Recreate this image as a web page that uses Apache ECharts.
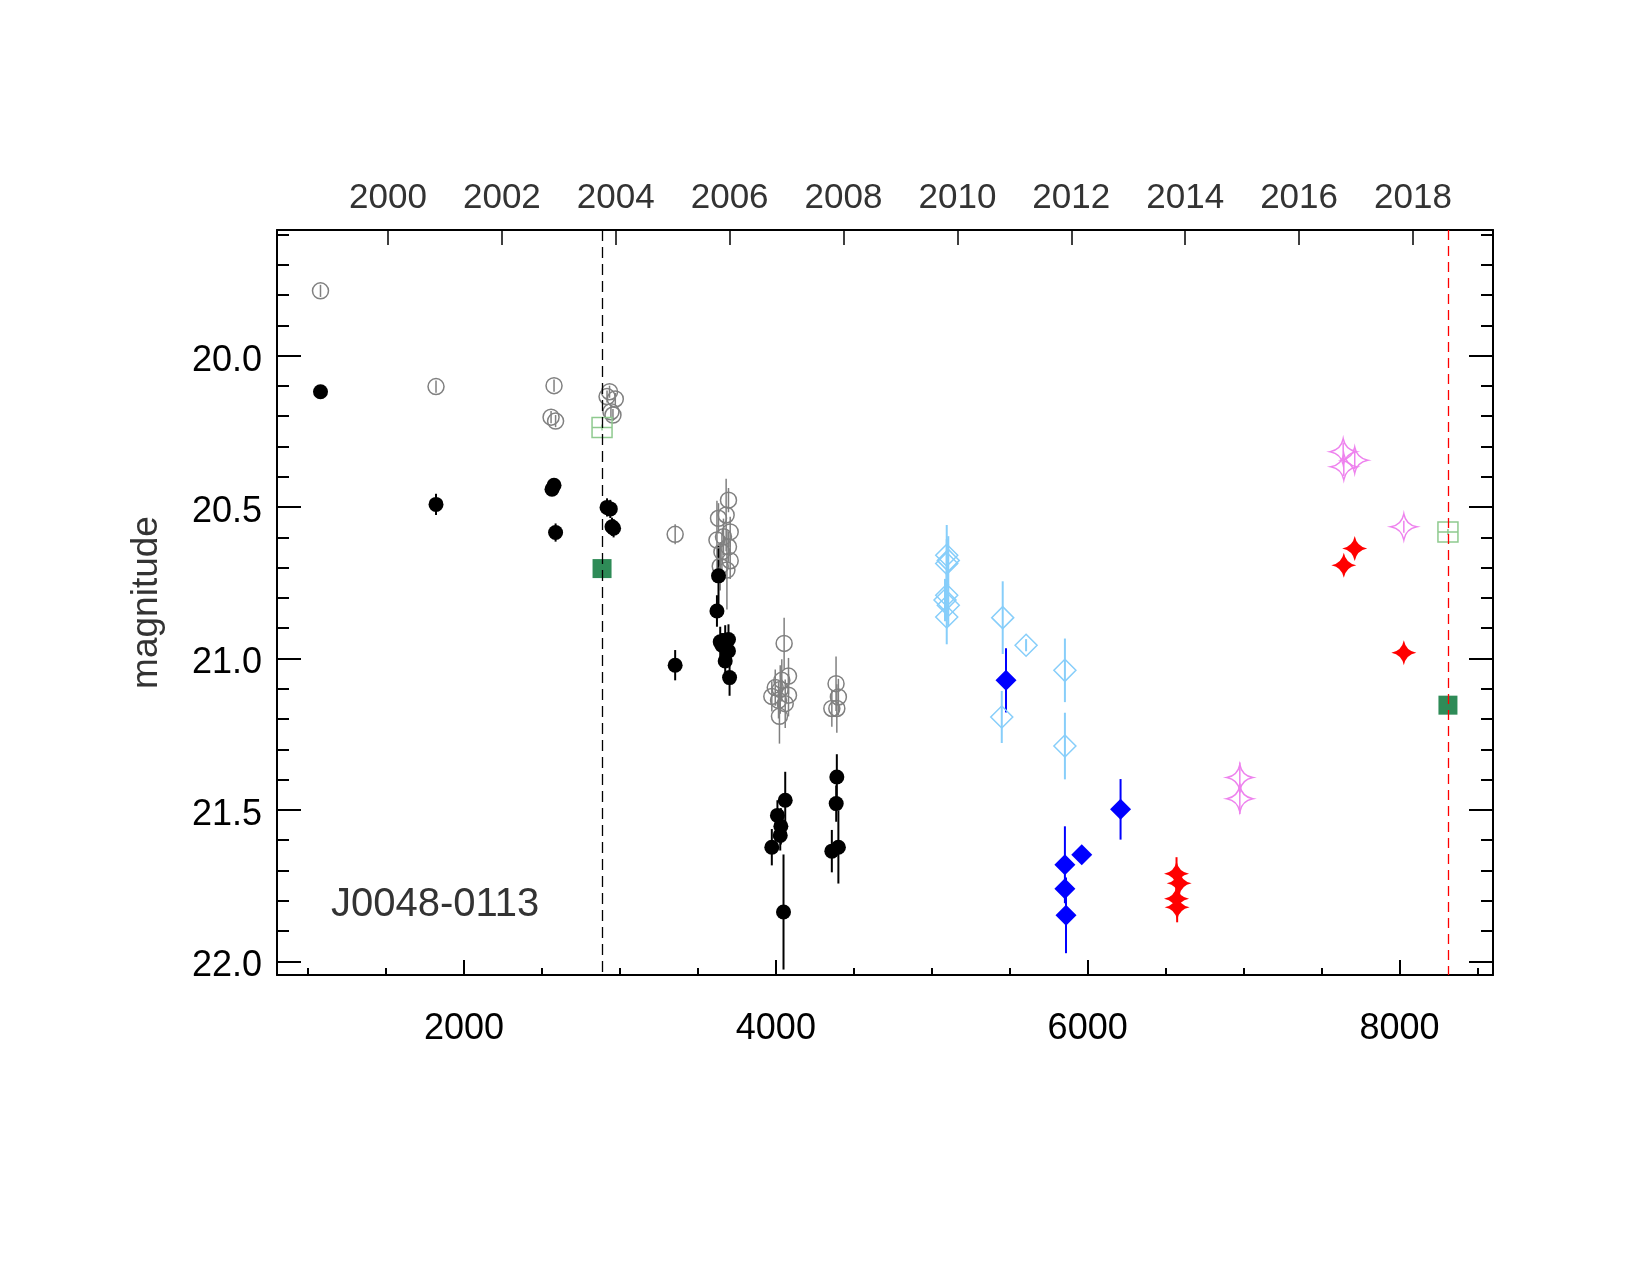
<!DOCTYPE html>
<html>
<head>
<meta charset="utf-8">
<script src="https://cdn.jsdelivr.net/npm/echarts@6/dist/echarts.min.js"></script>
<style>
  body { margin: 0; background: #fff; }
  #chart { width: 1650px; height: 1275px; }
</style>
</head>
<body>
<div id="chart"></div>
<script>
// each point: [MJD - 50000, magnitude, error]
const greyOpen = [
  [1079, 19.786, 0.02], [1820, 20.102, 0.02], [2577, 20.099, 0.02], [2558, 20.203, 0.02],
  [2587, 20.216, 0.02], [2933, 20.119, 0.02], [2917, 20.135, 0.02], [2970, 20.143, 0.02],
  [2942, 20.185, 0.02], [2955, 20.196, 0.02], [3354, 20.590, 0.033],
  [3696, 20.477, 0.04], [3632, 20.537, 0.05], [3681, 20.526, 0.12], [3622, 20.609, 0.13],
  [3707, 20.582, 0.05], [3664, 20.598, 0.06], [3696, 20.631, 0.05], [3654, 20.648, 0.06],
  [3707, 20.677, 0.06], [3643, 20.695, 0.08], [3686, 20.708, 0.13],
  [4053, 20.950, 0.085], [4081, 21.058, 0.06], [4038, 21.072, 0.07], [3996, 21.096, 0.06],
  [4028, 21.102, 0.08], [3974, 21.125, 0.05], [4081, 21.121, 0.07], [4017, 21.138, 0.06],
  [4060, 21.149, 0.08], [4023, 21.191, 0.09],
  [4386, 21.083, 0.09], [4401, 21.127, 0.06], [4359, 21.165, 0.06], [4391, 21.165, 0.08]
];
const blackFilled = [
  [1079, 20.119, 0.01], [1820, 20.491, 0.035], [2564, 20.441, 0.02], [2577, 20.428, 0.02],
  [2587, 20.584, 0.03], [2917, 20.501, 0.03], [2938, 20.506, 0.03], [2949, 20.565, 0.03],
  [2959, 20.570, 0.03], [3354, 21.022, 0.05], [3632, 20.727, 0.1], [3622, 20.843, 0.052],
  [3643, 20.945, 0.05], [3675, 20.940, 0.05], [3696, 20.937, 0.05], [3654, 20.956, 0.04],
  [3696, 20.975, 0.04], [3675, 21.008, 0.04], [3703, 21.063, 0.06],
  [4060, 21.468, 0.094], [4010, 21.518, 0.05], [4032, 21.554, 0.06], [4028, 21.584, 0.05],
  [3974, 21.623, 0.06], [4049, 21.837, 0.19],
  [4391, 21.391, 0.075], [4387, 21.479, 0.06], [4401, 21.623, 0.12], [4359, 21.636, 0.07]
];
const greenOpen = [[2885, 20.237, 0.01], [8311, 20.582, 0.01]];
const greenFilled = [[2885, 20.703, 0.01], [8311, 21.154, 0.01]];
const skyOpen = [
  [5096, 20.659, 0.1], [5106, 20.676, 0.08], [5096, 20.686, 0.08], [5096, 20.791, 0.08],
  [5085, 20.807, 0.07], [5106, 20.824, 0.07], [5096, 20.863, 0.09], [5455, 20.865, 0.12],
  [5605, 20.956, 0.02], [5449, 21.193, 0.086], [5854, 21.039, 0.105], [5854, 21.289, 0.11]
];
const blueFilled = [
  [5476, 21.072, 0.106], [6211, 21.498, 0.10], [5962, 21.648, 0.02],
  [5854, 21.681, 0.127], [5854, 21.760, 0.03], [5861, 21.848, 0.125]
];
const violetOpen = [
  [6976, 21.393, 0.05], [6976, 21.463, 0.05], [7639, 20.317, 0.03],
  [7713, 20.345, 0.03], [7643, 20.367, 0.03], [8028, 20.565, 0.02]
];
const redFilled = [
  [6570, 21.711, 0.055], [6587, 21.742, 0.04], [6570, 21.793, 0.04], [6574, 21.821, 0.05],
  [7713, 20.637, 0.02], [7643, 20.692, 0.02], [8028, 20.981, 0.02]
];
const epochLines = [2885, 8311];

// tick labels
const xMajor = [2000, 4000, 6000, 8000];
const xMinor = [1000, 1500, 2500, 3000, 3500, 4500, 5000, 5500, 6500, 7000, 7500, 8500];
const years = [2000, 2002, 2004, 2006, 2008, 2010, 2012, 2014, 2016, 2018];
const magMajor = [20.0, 20.5, 21.0, 21.5, 22.0];
const magMinor = [19.6, 19.7, 19.8, 19.9, 20.1, 20.2, 20.3, 20.4, 20.6, 20.7, 20.8, 20.9,
  21.1, 21.2, 21.3, 21.4, 21.6, 21.7, 21.8, 21.9];

const FONT = '"Liberation Sans", Helvetica, Arial, sans-serif';
const X0 = 1512; // MJD-50000 at 2000.0 on this plot
const yearToX = y => X0 + (y - 2000) * 365.25;
const yearPos = years.map(yearToX);

const STAR = 'path://M0,-10 Q1.6,-1.6 10,0 Q1.6,1.6 0,10 Q-1.6,1.6 -10,0 Q-1.6,-1.6 0,-10 Z';
const BOXMID = 'path://M0,0 L20,0 L20,20 L0,20 Z M0,10 L20,10';

function errBars(data, color, width) {
  return {
    type: 'custom',
    data: data,
    encode: { x: 0, y: 1 },
    silent: true,
    renderItem: function (params, api) {
      const x = api.value(0), y = api.value(1), e = api.value(2);
      const a = api.coord([x, y - e]), b = api.coord([x, y + e]);
      return {
        type: 'line',
        shape: { x1: a[0], y1: a[1], x2: b[0], y2: b[1] },
        style: { stroke: color, lineWidth: width }
      };
    }
  };
}

function marks(data, symbol, size, fill, stroke, bw) {
  return {
    type: 'scatter',
    data: data,
    symbol: symbol,
    symbolSize: size,
    silent: true,
    itemStyle: { color: fill, borderColor: stroke, borderWidth: bw, opacity: 1 }
  };
}

const none = 'rgba(0,0,0,0)';
const axisLine = { show: true, lineStyle: { color: '#000', width: 2 } };

const chart = echarts.init(document.getElementById('chart'));
chart.setOption({
  backgroundColor: '#fff',
  animation: false,
  grid: { left: 277, top: 230, width: 1216, height: 745, containLabel: false, outerBoundsMode: 'none' },
  xAxis: [
    {
      type: 'value', position: 'bottom', min: 800, max: 8600,
      axisLine: axisLine, splitLine: { show: false },
      axisTick: { inside: true, length: 15, customValues: xMajor, lineStyle: { color: '#000', width: 2 } },
      axisLabel: { customValues: xMajor, fontSize: 36, color: '#000', margin: 36, fontFamily: FONT,
        formatter: v => String(v) }
    },
    {
      type: 'value', position: 'bottom', min: 800, max: 8600,
      axisLine: { show: false }, splitLine: { show: false }, axisLabel: { show: false },
      axisTick: { inside: true, length: 7, customValues: xMinor, lineStyle: { color: '#000', width: 2 } }
    },
    {
      type: 'value', position: 'top', min: 800, max: 8600,
      axisLine: axisLine, splitLine: { show: false },
      axisTick: { inside: true, length: 15, customValues: yearPos, lineStyle: { color: '#000', width: 1.5 } },
      axisLabel: {
        customValues: yearPos, fontSize: 35, color: '#333', margin: 14, fontFamily: FONT,
        formatter: v => String(Math.round(2000 + (v - X0) / 365.25))
      }
    }
  ],
  yAxis: [
    {
      type: 'value', position: 'left', inverse: true, min: 19.585, max: 22.045,
      axisLine: axisLine, splitLine: { show: false },
      axisTick: { inside: true, length: 24, customValues: magMajor, lineStyle: { color: '#000', width: 2 } },
      axisLabel: {
        customValues: magMajor, color: '#000', margin: 15, fontFamily: FONT,
        formatter: v => '{m|' + v.toFixed(1) + '}',
        rich: { m: { fontSize: 36, color: '#000', fontFamily: FONT, padding: [10, 0, 0, 0] } }
      },
      name: 'magnitude', nameLocation: 'middle', nameGap: 112,
      nameTextStyle: { fontSize: 37, color: '#333', fontFamily: FONT }
    },
    {
      type: 'value', position: 'left', inverse: true, min: 19.585, max: 22.045,
      axisLine: { show: false }, splitLine: { show: false }, axisLabel: { show: false },
      axisTick: { inside: true, length: 12, customValues: magMinor, lineStyle: { color: '#000', width: 2 } }
    },
    {
      type: 'value', position: 'right', inverse: true, min: 19.585, max: 22.045,
      axisLine: axisLine, splitLine: { show: false }, axisLabel: { show: false },
      axisTick: { inside: true, length: 24, customValues: magMajor, lineStyle: { color: '#000', width: 2 } }
    },
    {
      type: 'value', position: 'right', inverse: true, min: 19.585, max: 22.045,
      axisLine: { show: false }, splitLine: { show: false }, axisLabel: { show: false },
      axisTick: { inside: true, length: 12, customValues: magMinor, lineStyle: { color: '#000', width: 2 } }
    }
  ],
  graphic: [{
    type: 'text', left: 331, top: 885,
    style: { text: 'J0048-0113', fontSize: 40, fill: '#333', fontFamily: FONT }
  }],
  series: [
    {
      type: 'line', data: [], silent: true,
      markLine: {
        silent: true, symbol: 'none', label: { show: false },
        data: [
          { xAxis: epochLines[0], lineStyle: { color: '#000', type: [11, 6], width: 1.3 } },
          { xAxis: epochLines[1], lineStyle: { color: '#ff0000', type: [10, 6], width: 1.3 } }
        ]
      }
    },
    errBars(greyOpen, '#808080', 1.5),
    marks(greyOpen, 'circle', 16, none, '#808080', 1.5),
    errBars(blackFilled, '#000', 2),
    marks(blackFilled, 'circle', 15, '#000', '#000', 0),
    errBars(greenOpen, '#8fca8f', 1.5),
    marks(greenOpen, BOXMID, 20, none, '#8fca8f', 1.5),
    marks(greenFilled, 'rect', 19, '#2e8b57', '#2e8b57', 0),
    errBars(skyOpen, '#87cefa', 2),
    marks(skyOpen, 'diamond', 22, none, '#87cefa', 1.5),
    errBars(blueFilled, '#0000ff', 2),
    marks(blueFilled, 'diamond', 21, '#0000ff', '#0000ff', 0),
    errBars(violetOpen, '#ee82ee', 1.5),
    marks(violetOpen, STAR, 26, none, '#ee82ee', 1.5),
    errBars(redFilled, '#ff0000', 2),
    marks(redFilled, STAR, 25, '#ff0000', '#ff0000', 0)
  ]
});
</script>
</body>
</html>
